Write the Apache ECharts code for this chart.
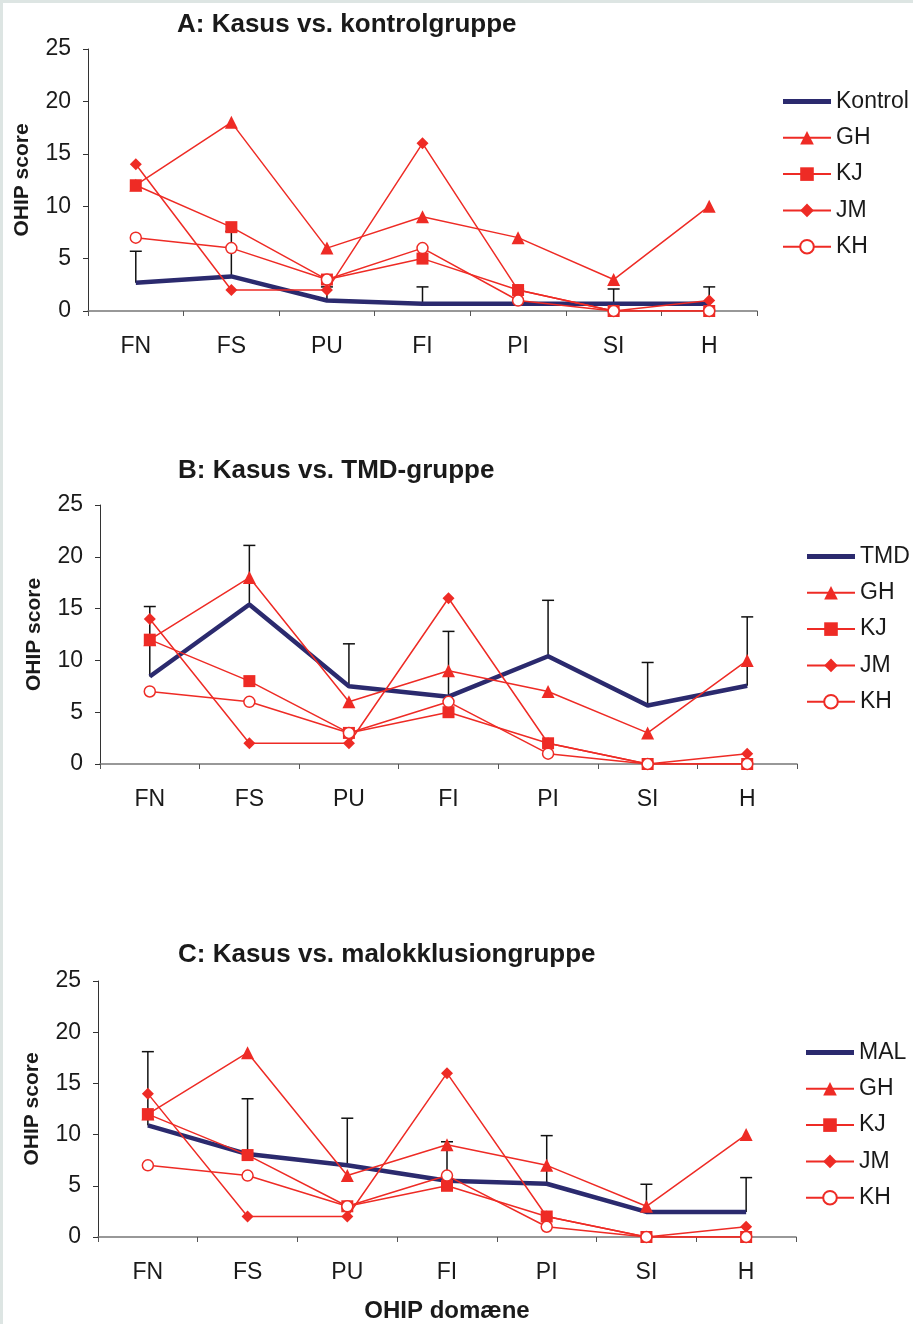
<!DOCTYPE html>
<html>
<head>
<meta charset="utf-8">
<script src="https://cdn.jsdelivr.net/npm/echarts@6/dist/echarts.min.js"></script>
<style>
html,body{margin:0;padding:0;background:#fff;}
#wrap{position:relative;width:913px;height:1324px;box-sizing:border-box;border-left:3px solid #dde5e3;border-top:3px solid #dde5e3;}
#c{position:absolute;left:-3px;top:-3px;width:913px;height:1324px;}
</style>
</head>
<body>
<div id="wrap"><div id="c"></div></div>
<script>
// ---- data ----
const categories = ['FN','FS','PU','FI','PI','SI','H'];
const yTicks = [0,5,10,15,20,25];
const caseNames = ['GH','KJ','JM','KH'];
const GH = [12, 18, 6, 9, 7, 3, 10];
const KJ = [12, 8, 3, 5, 2, 0, 0];
const JM = [14, 2, 2, 16, 2, 0, 1];
const KH = [7, 6, 3, 6, 1, 0, 0];

const kontrolMean = [2.7, 3.3, 1.0, 0.7, 0.7, 0.7, 0.7];
const kontrolUpper = [5.7, 7.6, 2.3, 2.3, 2.1, 2.1, 2.3];
const tmdMean = [8.45, 15.4, 7.5, 6.5, 10.4, 5.65, 7.55];
const tmdUpper = [15.2, 21.1, 11.6, 12.8, 15.8, 9.8, 14.2];
const malMean = [10.9, 8.1, 7.0, 5.5, 5.2, 2.45, 2.45];
const malUpper = [18.1, 13.5, 11.6, 9.3, 9.9, 5.15, 5.8];

const panelTitles = ['A: Kasus vs. kontrolgruppe','B: Kasus vs. TMD-gruppe','C: Kasus vs. malokklusiongruppe'];
const groupNames = ['Kontrol','TMD','MAL'];
const xAxisTitle = 'OHIP domæne';
const yAxisTitle = 'OHIP score';

// ---- style ----
const RED = '#ee2b25';
const NAVY = '#2b2a6e';
const FONT = '"Liberation Sans", Arial, sans-serif';

const panels = [
  {grid:{left:88, top:49, width:669, height:262}, title:{left:177, top:12}, legend:{left:782, top:90}, mean:kontrolMean, upper:kontrolUpper, nameGap:55},
  {grid:{left:100, top:505, width:697, height:259}, title:{left:178, top:458}, legend:{left:806, top:545}, mean:tmdMean, upper:tmdUpper, nameGap:55},
  {grid:{left:98, top:981, width:698, height:256}, title:{left:178, top:942}, legend:{left:805, top:1041}, mean:malMean, upper:malUpper, nameGap:55}
];

const caseData = [GH, KJ, JM, KH];
const caseSymbols = [
  {symbol:'triangle', size:13, fill:RED},
  {symbol:'rect', size:12, fill:RED},
  {symbol:'diamond', size:12, fill:RED},
  {symbol:'circle', size:11, fill:'#fff'}
];

const option = {
  backgroundColor:'transparent',
  animation:false,
  title:[], legend:[], grid:[], xAxis:[], yAxis:[], series:[]
};

panels.forEach((p, i) => {
  option.grid.push(Object.assign({containLabel:false}, p.grid));
  option.title.push({text:panelTitles[i], left:p.title.left, top:p.title.top, padding:0,
    textStyle:{fontFamily:FONT, fontSize:26, fontWeight:'bold', color:'#1a1a1a'}});
  option.xAxis.push({type:'category', gridIndex:i, data:categories, boundaryGap:true,
    axisLine:{lineStyle:{color:'#777', width:1.5}},
    axisTick:{show:true, length:5, inside:false, lineStyle:{color:'#555'}},
    axisLabel:{fontFamily:FONT, fontSize:23, color:'#1a1a1a', margin:24},
    splitLine:{show:false},
    name: i===2 ? xAxisTitle : '', nameLocation:'middle', nameGap:62,
    nameTextStyle:{fontFamily:FONT, fontSize:24, fontWeight:'bold', color:'#1a1a1a'}
  });
  option.yAxis.push({type:'value', gridIndex:i, min:yTicks[0], max:yTicks[yTicks.length-1], interval:yTicks[1]-yTicks[0],
    axisLine:{show:true, lineStyle:{color:'#333', width:1}},
    axisTick:{show:true, length:5, lineStyle:{color:'#333'}},
    axisLabel:{fontFamily:FONT, fontSize:23, color:'#1a1a1a', margin:17},
    splitLine:{show:false},
    name:yAxisTitle, nameLocation:'middle', nameRotate:90, nameGap:p.nameGap,
    nameTextStyle:{fontFamily:FONT, fontSize:21, fontWeight:'bold', color:'#1a1a1a'}
  });
  option.legend.push({orient:'vertical', left:p.legend.left, top:p.legend.top, padding:0,
    itemWidth:48, itemHeight:17, itemGap:13.3,
    textStyle:{fontFamily:FONT, fontSize:23, color:'#1a1a1a'},
    data:[{name:groupNames[i], icon:'path://M0,0L48,0L48,5L0,5Z'}].concat(caseNames), selectedMode:false});

  // error bars
  option.series.push({type:'custom', name:'err'+i, xAxisIndex:i, yAxisIndex:i, z:1,
    data: categories.map((c, k) => [k, p.mean[k], p.upper[k]]),
    renderItem: function(params, api){
      const base = api.coord([api.value(0), api.value(1)]);
      const top = api.coord([api.value(0), api.value(2)]);
      const hw = 6;
      return {type:'group', children:[
        {type:'line', shape:{x1:base[0], y1:base[1], x2:top[0], y2:top[1]}, style:{stroke:'#111', lineWidth:1.5}},
        {type:'line', shape:{x1:top[0]-hw, y1:top[1], x2:top[0]+hw, y2:top[1]}, style:{stroke:'#111', lineWidth:1.5}}
      ]};
    },
    silent:true
  });
  // group mean
  option.series.push({type:'line', name:groupNames[i], xAxisIndex:i, yAxisIndex:i, z:2,
    data:p.mean, symbol:'none', lineStyle:{color:NAVY, width:4.5}, itemStyle:{color:NAVY}});
  // cases
  caseNames.forEach((n, j) => {
    const s = caseSymbols[j];
    option.series.push({type:'line', name:n, xAxisIndex:i, yAxisIndex:i, z:3+j,
      data:caseData[j], symbol:s.symbol, symbolSize:s.size, showAllSymbol:true,
      lineStyle:{color:RED, width:1.5},
      itemStyle:{color:s.fill, borderColor:RED, borderWidth: j===3 ? 1.5 : 0}});
  });
});

const chart = echarts.init(document.getElementById('c'), null, {renderer:'canvas'});
chart.setOption(option);
</script>
</body>
</html>
